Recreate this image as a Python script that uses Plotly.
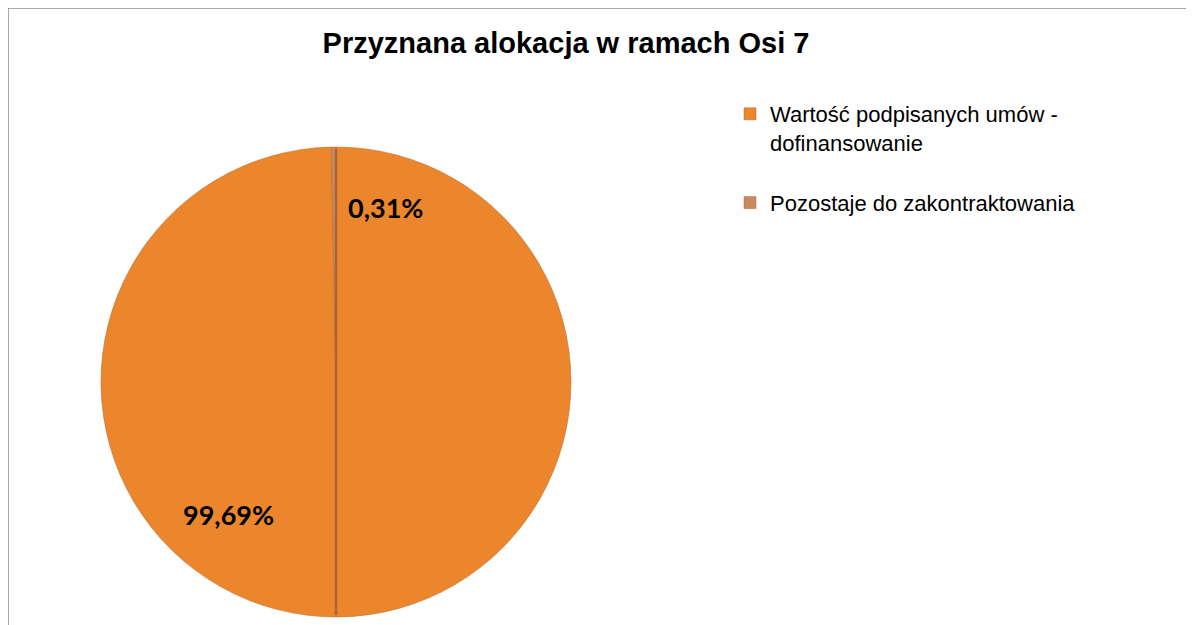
import plotly.graph_objects as go

categories = ["Wartość podpisanych umów - dofinansowanie", "Pozostaje do zakontraktowania"]
legend_labels = ["Wartość podpisanych umów -<br>dofinansowanie<br> ", "Pozostaje do zakontraktowania"]
values = [99.69, 0.31]
colors = ["#EC862C", "#C98A62"]

W, H = 1194, 625
OFF = 8  # page body margin
cx, cy, r = 336 - OFF, 382 - OFF, 235

total = sum(values)
pct_text = [f"{v / total * 100:.2f}".replace(".", ",") + "%" for v in values]

fig = go.Figure()
fig.add_trace(go.Pie(
    labels=legend_labels,
    values=values,
    sort=False,
    direction="clockwise",
    rotation=0,
    textinfo="none",
    hoverinfo="label+percent",
    marker=dict(colors=colors, line=dict(color="#B5652A", width=0.5)),
    domain=dict(x=[(cx - r) / W, (cx + r) / W], y=[(H - cy - r) / H, (H - cy + r) / H]),
    showlegend=True,
))

# percentage labels
label_pos = [(228 - OFF, 514 - OFF), (385 - OFF, 207 - OFF)]
annotations = []
for txt, (px, py) in zip(pct_text, label_pos):
    annotations.append(dict(
        x=px / W, y=1 - py / H, xref="paper", yref="paper",
        xanchor="center", yanchor="middle",
        text=f"<b>{txt}</b>", showarrow=False,
        font=dict(family="Lato", size=27, color="#000000"),
    ))

shapes = [
    # chart frame
    dict(type="rect", xref="paper", yref="paper", x0=0, x1=1.02, y0=-0.02, y1=1,
         line=dict(color="#8C8C8C", width=1.5), fillcolor="rgba(0,0,0,0)", layer="below"),
    # vertical divider seen in the pie
    dict(type="line", xref="paper", yref="paper", x0=cx / W, x1=cx / W,
         y0=(H - cy - r + 2) / H, y1=(H - cy + r - 2) / H,
         line=dict(color="#A8653A", width=2.5)),
]

fig.update_layout(
    width=W, height=H,
    margin=dict(l=0, r=0, t=0, b=0),
    paper_bgcolor="white", plot_bgcolor="white",
    title=dict(text="<b>Przyznana alokacja w ramach Osi 7</b>", x=(566 - OFF) / W, xanchor="center",
               y=1 - (43 - OFF) / H, yanchor="middle",
               font=dict(family="Liberation Sans", size=29, color="#000000")),
    legend=dict(x=(730 - OFF) / W, y=1 - (93 - OFF) / H, xanchor="left", yanchor="top",
                font=dict(family="Liberation Sans", size=22, color="#000000"),
                valign="top", itemwidth=30, bgcolor="rgba(0,0,0,0)"),
    annotations=annotations,
    shapes=shapes,
)

fig.write_html("out.html")
